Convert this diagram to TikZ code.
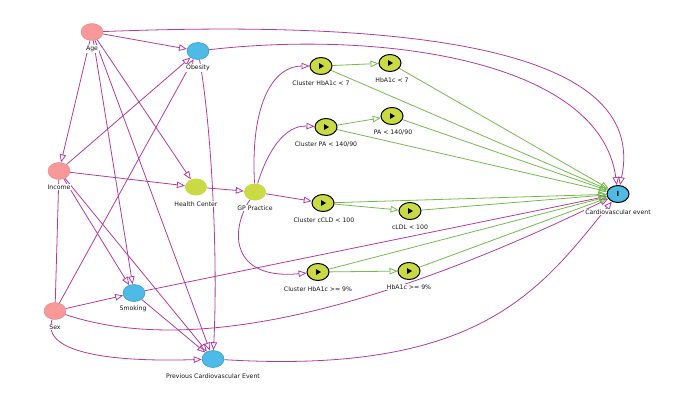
\documentclass[tikz,border=0pt]{standalone}
\usepackage{fontspec}
\setmainfont{DejaVu Sans}
\usetikzlibrary{shapes.geometric,arrows.meta}
\pgfdeclarelayer{bg}
\pgfsetlayers{bg,main}
\definecolor{pinkn}{RGB}{248,152,152}
\definecolor{pinkbd}{RGB}{235,130,130}
\definecolor{bluen}{RGB}{78,186,230}
\definecolor{bluebd}{RGB}{45,160,215}
\definecolor{yelln}{RGB}{202,218,68}
\definecolor{mag}{RGB}{178,60,158}
\definecolor{grn}{RGB}{118,186,78}
\begin{document}
\begin{tikzpicture}[x=1bp,y=-1bp,
  font=\fontsize{6.2}{7}\selectfont,
  var/.style={ellipse, minimum width=22bp, minimum height=17bp, inner sep=0pt},
  pinkv/.style={var, fill=pinkn, draw=pinkbd, line width=0.4bp},
  bluev/.style={var, fill=bluen, draw=bluebd, line width=0.6bp},
  yellv/.style={var, fill=yelln},
  playv/.style={var, fill=yelln, draw=black, line width=1bp,
    path picture={\fill[black] ([xshift=-2bp,yshift=3bp]path picture bounding box.center) -- ++(5bp,-3bp) -- ++(-5bp,-3bp) -- cycle;}},
  outv/.style={var, fill=bluen, draw=black, line width=1bp, font=\fontsize{7}{7}\selectfont\bfseries},
  lab/.style={inner sep=1bp, fill=white, text=black!90},
  ma/.style={draw=mag, line width=0.8bp, -{Triangle[open,length=8bp,width=6.5bp]}},
  ml/.style={draw=mag, line width=0.8bp},
  ga/.style={draw=grn, line width=0.8bp, -{Triangle[open,length=8bp,width=6.5bp]}}
]
\useasboundingbox (0,0) rectangle (697,407);

\node[pinkv] (age) at (92,32) {};
\node[bluev] (obes) at (198,51) {};
\node[pinkv] (inc) at (59,171) {};
\node[yellv] (hc) at (196,187) {};
\node[yellv] (gp) at (255,192) {};
\node[playv] (chb7) at (321,66) {};
\node[playv] (hb7) at (390,63) {};
\node[playv] (cpa) at (326,127) {};
\node[playv] (pa) at (392,116) {};
\node[playv] (ccld) at (323,203) {};
\node[playv] (cldl) at (410,211) {};
\node[playv] (chb9) at (318,272) {};
\node[playv] (hb9) at (409,271) {};
\node[outv] (cv) at (618,194) {I};
\node[bluev] (smk) at (134,293) {};
\node[pinkv] (sex) at (55,311) {};
\node[bluev] (pcv) at (213,359) {};

\node[lab] (lage) at (92,49) {Age};
\node[lab] (lobes) at (198,68) {Obesity};
\node[lab] (linc) at (59,187) {Income};
\node[lab] (lhc) at (196,204) {Health Center};
\node[lab] (lgp) at (255,208) {GP Practice};
\node[lab] (lchb7) at (321,83) {Cluster HbA1c < 7};
\node[lab] (lhb7) at (392,80) {HbA1c < 7};
\node[lab] (lcpa) at (326,144) {Cluster PA < 140/90};
\node[lab] (lpa) at (393,132) {PA < 140/90};
\node[lab] (lccld) at (324,220) {Cluster cCLD < 100};
\node[lab] (lcldl) at (410,227) {cLDL < 100};
\node[lab] (lchb9) at (318,289) {Cluster HbA1c >= 9\%};
\node[lab] (lhb9) at (409,287) {HbA1c >= 9\%};
\node[lab] (lcv) at (618,212) {Cardiovascular event};
\node[lab] (lsmk) at (133,309) {Smoking};
\node[lab] (lsex) at (55,327) {Sex};
\node[lab] (lpcv) at (213,376) {Previous Cardiovascular Event};

\begin{pgfonlayer}{bg}
% magenta edges
\draw[ma] (age) -- (obes);
\draw[ma] (age) -- (inc);
\draw[ma] (age) -- (hc);
\draw[ma] (age) -- (smk);
\draw[ma] (age) -- (pcv);
\draw[ma] (age) .. controls (400,20) and (650,45) .. (cv);
\draw[ma] (obes) .. controls (380,30) and (600,60) .. (cv);
\draw[ma] (obes) .. controls (212,130) and (218,260) .. (pcv);
\draw[ma] (inc) -- (obes);
\draw[ma] (inc) -- (hc);
\draw[ma] (inc) -- (smk);
\draw[ma] (inc) -- (pcv);
\draw[ml] (sex) -- (inc);
\draw[ma] (sex) -- (obes);
\draw[ma] (sex) -- (smk);
\draw[ma] (sex) .. controls (40,355) and (120,362) .. (pcv);
\draw[ma] (sex) .. controls (200,360) and (400,300) .. (cv);
\draw[ma] (smk) -- (pcv);
\draw[ma] (smk) -- (cv);
\draw[ma] (pcv) .. controls (480,375) and (540,290) .. (cv);
\draw[ma] (hc) -- (gp);
\draw[ma] (gp) .. controls (250,100) and (275,66) .. (chb7);
\draw[ma] (gp) .. controls (268,150) and (285,125) .. (cpa);
\draw[ma] (gp) -- (ccld);
\draw[ma] (gp) .. controls (230,230) and (230,280) .. (chb9);
% green edges
\draw[ga] (chb7) -- (hb7);
\draw[ga] (chb7) -- (cv);
\draw[ga] (hb7) -- (cv);
\draw[ga] (cpa) -- (pa);
\draw[ga] (cpa) -- (cv);
\draw[ga] (pa) -- (cv);
\draw[ga] (ccld) -- (cldl);
\draw[ga] (ccld) -- (cv);
\draw[ga] (cldl) -- (cv);
\draw[ga] (chb9) -- (hb9);
\draw[ga] (chb9) -- (cv);
\draw[ga] (hb9) -- (cv);
\end{pgfonlayer}
\end{tikzpicture}
\end{document}
